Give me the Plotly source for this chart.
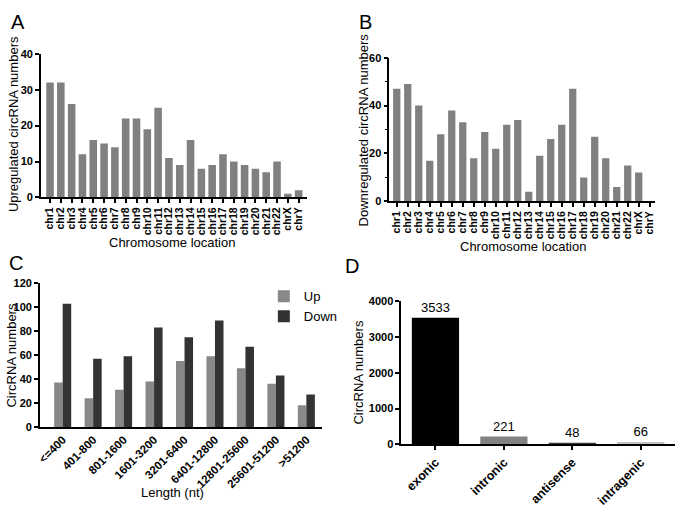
import plotly.graph_objects as go

chroms = ["chr1","chr2","chr3","chr4","chr5","chr6","chr7","chr8","chr9","chr10","chr11","chr12",
          "chr13","chr14","chr15","chr16","chr17","chr18","chr19","chr20","chr21","chr22","chrX","chrY"]
up_chr = [32,32,26,12,16,15,14,22,22,19,25,11,9,16,8,9,12,10,9,8,7,10,1,2]
down_chr = [47,49,40,17,28,38,33,18,29,22,32,34,4,19,26,32,47,10,27,18,6,15,12,0]

lengths = ["<=400","401-800","801-1600","1601-3200","3201-6400","6401-12800","12801-25600","25601-51200",">51200"]
up_len = [37,24,31,38,55,59,49,36,18]
down_len = [103,57,59,83,75,89,67,43,27]

types = ["exonic","intronic","antisense","intragenic"]
type_counts = [3533,221,48,66]
type_colors = ["#000000","#828282","#3c3c3c","#c4c4c4"]

FONT = "Liberation Sans, Arial, sans-serif"
fig = go.Figure()

fig.add_trace(go.Bar(x=chroms, y=up_chr, marker_color="#808080", marker_line_width=0, width=0.7,
                     xaxis="x", yaxis="y", showlegend=False))
fig.add_trace(go.Bar(x=chroms, y=down_chr, marker_color="#808080", marker_line_width=0, width=0.66,
                     xaxis="x2", yaxis="y2", showlegend=False))
fig.add_trace(go.Bar(x=lengths, y=up_len, name="Up", marker_color="#888888", marker_line_width=0,
                     width=0.28, offset=-0.28, xaxis="x3", yaxis="y3"))
fig.add_trace(go.Bar(x=lengths, y=down_len, name="Down", marker_color="#333333", marker_line_width=0,
                     width=0.28, offset=0, xaxis="x3", yaxis="y3"))
fig.add_trace(go.Bar(x=types, y=type_counts, marker_color=type_colors, marker_line_width=0,
                     text=[str(v) for v in type_counts], textposition="outside",
                     textfont=dict(size=13, color="black", family=FONT), cliponaxis=False,
                     xaxis="x4", yaxis="y4", showlegend=False, width=0.69))

def tf(size=11):
    return dict(size=size, color="black", family=FONT, weight="bold")

axis_common = dict(showline=True, linecolor="black", linewidth=1.5, ticks="outside",
                   tickcolor="black", tickwidth=1.5, ticklen=4, showgrid=False, zeroline=False)

def W(a, b): return [a/677, b/677]
def H(top, bot): return [1-bot/511, 1-top/511]

fig.update_layout(
    width=677, height=511, margin=dict(l=0, r=0, t=0, b=0),
    paper_bgcolor="white", plot_bgcolor="white",
    barmode="group",
    font=dict(family=FONT, color="black"),
    xaxis=dict(domain=W(38, 305), anchor="y", tickangle=-90, dtick=1, range=[-0.85, 23.74],
               tickfont=tf(10.5), **axis_common),
    yaxis=dict(domain=H(49, 196), anchor="x", range=[0, 40], dtick=10, tickfont=tf(), **axis_common),
    xaxis2=dict(domain=W(388, 655), anchor="y2", tickangle=-90, dtick=1, range=[-0.68, 23.49],
                tickfont=tf(10.5), **axis_common),
    yaxis2=dict(domain=H(53, 200), anchor="x2", range=[0, 60], dtick=20, tickfont=tf(), **axis_common,
                minor=dict(dtick=10, ticks="outside", ticklen=3, tickcolor="black", tickwidth=1.2)),
    xaxis3=dict(domain=W(37, 320), anchor="y3", tickangle=-45, range=[-0.75, 8.5], tickfont=tf(11.5),
                **{**axis_common, "ticks": ""}),
    yaxis3=dict(domain=H(284, 431), anchor="x3", range=[0, 120], dtick=20, tickfont=tf(), **axis_common),
    xaxis4=dict(domain=W(400, 675), anchor="y4", tickangle=-45, range=[-0.5, 3.5], tickfont=tf(12.5),
                **axis_common),
    yaxis4=dict(domain=H(302, 449), anchor="x4", range=[0, 4000], dtick=1000, tickfont=tf(), **axis_common),
    legend=dict(x=262/677, y=1-282/511, xanchor="left", yanchor="top", bgcolor="rgba(0,0,0,0)",
                font=dict(size=13, family=FONT), tracegroupgap=0, itemwidth=30),
)

def ann(text, x, y, size=13, angle=0, xanchor="center", yanchor="middle"):
    fig.add_annotation(text=text, x=x/677, y=1-y/511, xref="paper", yref="paper",
                       xanchor=xanchor, yanchor=yanchor, showarrow=False, textangle=angle,
                       font=dict(size=size, family=FONT, color="black"))

for txt, x, y in [("A", 6, 3), ("B", 356, 3), ("C", 4, 250), ("D", 342, 253)]:
    ann(txt, x, y, size=20, xanchor="left", yanchor="top")

ann("Chromosome location", 170, 242)
ann("Chromosome location", 522, 246)
ann("Length (nt)", 170, 498)
ann("Upregulated circRNA numbers", 10, 121, angle=-90)
ann("Downregulated circRNA numbers", 362, 127, angle=-90)
ann("CircRNA numbers", 9, 357, angle=-90)
ann("CircRNA numbers", 357, 375, angle=-90)

fig.write_html("out.html", config={"displayModeBar": False},
               post_script="document.body.style.margin='0';document.body.style.overflow='hidden';")
